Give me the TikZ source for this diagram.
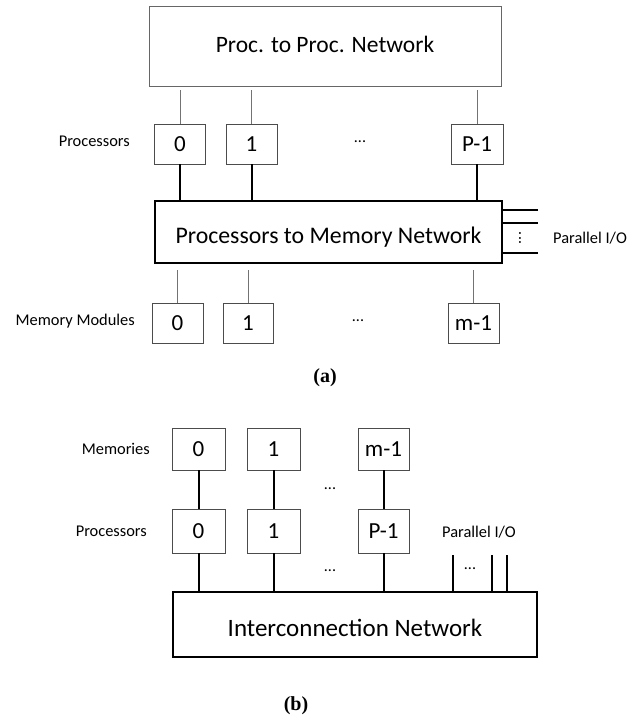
\documentclass[tikz,border=0pt]{standalone}
\usepackage{fontspec}
\setmainfont{Carlito}
\newfontfamily\capfont{Liberation Serif}
\begin{document}
\begin{tikzpicture}[x=1pt,y=-1pt,
  box/.style={draw=black!70,line width=0.8pt,inner sep=0pt,minimum height=40pt,font=\fontsize{23}{27}\selectfont},
  bigbox/.style={draw=black!60,line width=0.8pt,inner sep=0pt,font=\fontsize{23.5}{28}\selectfont},
  netbox/.style={draw=black,line width=2.2pt,inner sep=0pt,font=\fontsize{23.8}{28}\selectfont},
  netboxb/.style={draw=black,line width=1.3pt,inner sep=0pt,font=\fontsize{25}{30}\selectfont},
  thinline/.style={draw=black!55,line width=0.8pt},
  thickline/.style={draw=black,line width=2pt},
  lbl/.style={font=\fontsize{16.4}{19}\selectfont,inner sep=0pt},
  dotsnode/.style={font=\fontsize{16}{19}\selectfont,inner sep=0pt},
  captxt/.style={font=\capfont\bfseries\fontsize{20}{24}\selectfont,inner sep=0pt}]
\useasboundingbox (0,0) rectangle (643,719);
% ---------- (a) ----------
\node[bigbox,minimum width=352pt,minimum height=80pt] (top) at (325,46) {\raisebox{2pt}[\height][\depth]{Proc. to Proc. Network}};
\node[box,minimum width=51pt] (p0) at (180,144) {0};
\node[box,minimum width=51pt] (p1) at (251.5,144) {1};
\node[box,minimum width=52pt] (pp) at (477,144) {P-1};
\node[dotsnode] (pdots) at (360,142) {...};
\node[lbl,anchor=east] (lproc) at (130,141) {Processors};
\node[netbox,minimum width=347pt,minimum height=62pt] (mnet) at (328.5,232) {\raisebox{-5pt}[\height][\depth]{Processors to Memory Network}};
\node[box,minimum width=51pt] (m0) at (177.5,323) {0};
\node[box,minimum width=50pt] (m1) at (248,323) {1};
\node[box,minimum width=51pt] (mm) at (473.5,323) {m-1};
\node[dotsnode] (mdots) at (358,321) {...};
\node[lbl,anchor=east] (lmem) at (135,321) {Memory Modules};
\foreach \n in {p0,p1,pp}{
  \draw[thinline,shorten >=4pt] (\n.north) -- (\n.north |- top.south);
  \draw[thickline] (\n.south) -- (\n.south |- mnet.north);
}
\foreach \n in {m0,m1,mm}{
  \draw[thinline,shorten >=6pt] (\n.north) -- (\n.north |- mnet.south);
}
\coordinate (io1) at (538,210);
\coordinate (io2) at (538,223);
\coordinate (io3) at (538,253);
\foreach \c in {io1,io2,io3}{
  \draw[thickline] (\c) -- (\c -| mnet.east);
}
\node[dotsnode,rotate=90] (iodots) at (520,238) {...};
\node[lbl,anchor=west] (lio) at (553,238) {Parallel I/O};
\node[captxt] (capa) at (325,378) {(a)};
% ---------- (b) ----------
\node[box,minimum width=53pt,minimum height=42pt] (M0) at (198.5,449) {0};
\node[box,minimum width=53pt,minimum height=42pt] (M1) at (273.5,449) {1};
\node[box,minimum width=51pt,minimum height=42pt] (Mm) at (383.5,449) {m-1};
\node[box,minimum width=53pt,minimum height=44pt] (P0) at (198.5,531) {0};
\node[box,minimum width=53pt,minimum height=44pt] (P1) at (273.5,531) {1};
\node[box,minimum width=51pt,minimum height=44pt] (Pp) at (383.5,531) {P-1};
\node[netboxb,minimum width=364pt,minimum height=65pt] (inet) at (355,624.5) {\raisebox{-3pt}[\height][\depth]{Interconnection Network}};
\node[lbl,anchor=east] (lmems) at (150,449) {Memories};
\node[lbl,anchor=east] (lprocs) at (147,531) {Processors};
\node[dotsnode] (bd1) at (330,489) {...};
\node[dotsnode] (bd2) at (330,571) {...};
\foreach \a/\b in {M0/P0,M1/P1,Mm/Pp}{
  \draw[thickline] (\a.south) -- (\b.north);
  \draw[thickline] (\b.south) -- (\b.south |- inet.north);
}
\coordinate (bio1) at (453,555);
\coordinate (bio2) at (492,555);
\coordinate (bio3) at (507,555);
\foreach \c in {bio1,bio2,bio3}{
  \draw[thickline] (\c) -- (\c |- inet.north);
}
\node[dotsnode] (bd3) at (470,569) {...};
\node[lbl] (lbio) at (479,532) {Parallel I/O};
\node[captxt] (capb) at (296,706) {(b)};
\end{tikzpicture}
\end{document}
